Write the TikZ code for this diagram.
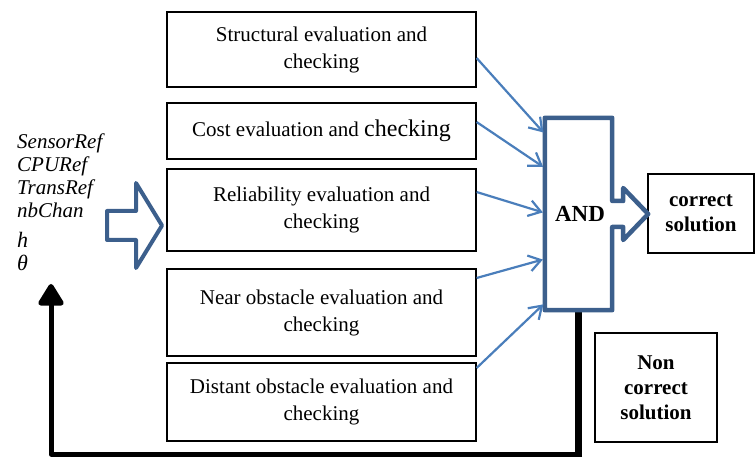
\documentclass[tikz,border=0pt]{standalone}
\usepackage{amsmath}
\usepackage{fontspec}
\setmainfont{Liberation Serif}
\usetikzlibrary{arrows.meta}
\definecolor{andblue}{RGB}{60,95,140}
\definecolor{linkblue}{RGB}{74,126,187}

\begin{document}
\begin{tikzpicture}[x=1pt,y=-1pt,
    evalbox/.style={draw, rectangle, line width=1.2pt, minimum width=309pt, align=center, font=\fontsize{21}{27}\selectfont},
    resbox/.style={draw, rectangle, line width=1.2pt, align=center, font=\fontsize{21}{25}\selectfont\bfseries},
    link/.style={linkblue, line width=2.2pt, shorten >=2pt, -{Straight Barb[length=12pt,width=16pt]}},
    outline/.style={andblue, line width=4.5pt, line join=round}]
    \useasboundingbox (0,0) rectangle (756,457);

    % evaluation boxes
    \node[evalbox, minimum height=75pt] (struct) at (321.5,49.5) {Structural evaluation and\\checking};
    \node[evalbox, minimum height=56pt] (cost) at (321.5,131) {Cost evaluation and {\fontsize{24}{27}\selectfont checking}};
    \node[evalbox, minimum height=82pt] (relia) at (321.5,210) {Reliability evaluation and\\checking};
    \node[evalbox, minimum height=87pt] (near) at (321.5,312.5) {Near obstacle evaluation and\\checking};
    \node[evalbox, minimum height=78pt] (distant) at (321.5,402) {Distant obstacle evaluation and\\checking};

    % inputs
    \node[anchor=north west, inner sep=0pt, align=left, font=\fontsize{21}{23}\selectfont\itshape] (inputs) at (17,134)
        {SensorRef\\CPURef\\TransRef\\nbChan\\[7pt]{\fontsize{22}{23}\selectfont h}\\{\fontsize{22}{23}\selectfont θ}};
    \draw[outline, line width=4pt] (107,211) -- (136,211) -- (136,183) -- (162,225.5) -- (136,268) -- (136,240) -- (107,240) -- cycle;

    % AND block
    \node[minimum width=67pt, minimum height=192pt, inner sep=0pt] (and) at (578.5,214) {};
    \node[resbox, minimum width=106pt, minimum height=79pt] (ok) at (701,213.5) {correct\\solution};
    \node[resbox, minimum width=122pt, minimum height=109pt] (nok) at (656,387.5) {Non\\correct\\solution};

    % feedback loop
    \coordinate (low) at (51,454);
    \coordinate (back) at (51,284);
    \draw[line width=7pt] (and.south) -- (and.south |- low);
    \draw[line width=5pt, line join=round, -{Triangle[width=28pt,length=24pt,round]}] ([xshift=3.5pt]and.south |- low) -- (low) -- (back);

    \draw[outline] (and.north west) -- (and.north east) -- ([yshift=13]and.east) -- ([xshift=11,yshift=13]and.east)
        -- ([xshift=11,yshift=26]and.east) -- ([xshift=36]and.east) -- ([xshift=11,yshift=-26]and.east)
        -- ([xshift=11,yshift=-13]and.east) -- ([yshift=-13]and.east) -- (and.south east) -- (and.south west) -- cycle;
    \node[font=\fontsize{23}{25}\selectfont\bfseries] (andtext) at (580,214) {AND};

    % links to AND
    \draw[link] ([yshift=-8.5]struct.east) -- ([yshift=80]and.west);
    \draw[link] ([yshift=9]cost.east) -- ([yshift=46]and.west);
    \draw[link] ([yshift=18]relia.east) -- ([yshift=1]and.west);
    \draw[link] ([yshift=34.5]near.east) -- ([yshift=-45]and.west);
    \draw[link] ([yshift=34]distant.east) -- ([yshift=-89]and.west);
\end{tikzpicture}
\end{document}
